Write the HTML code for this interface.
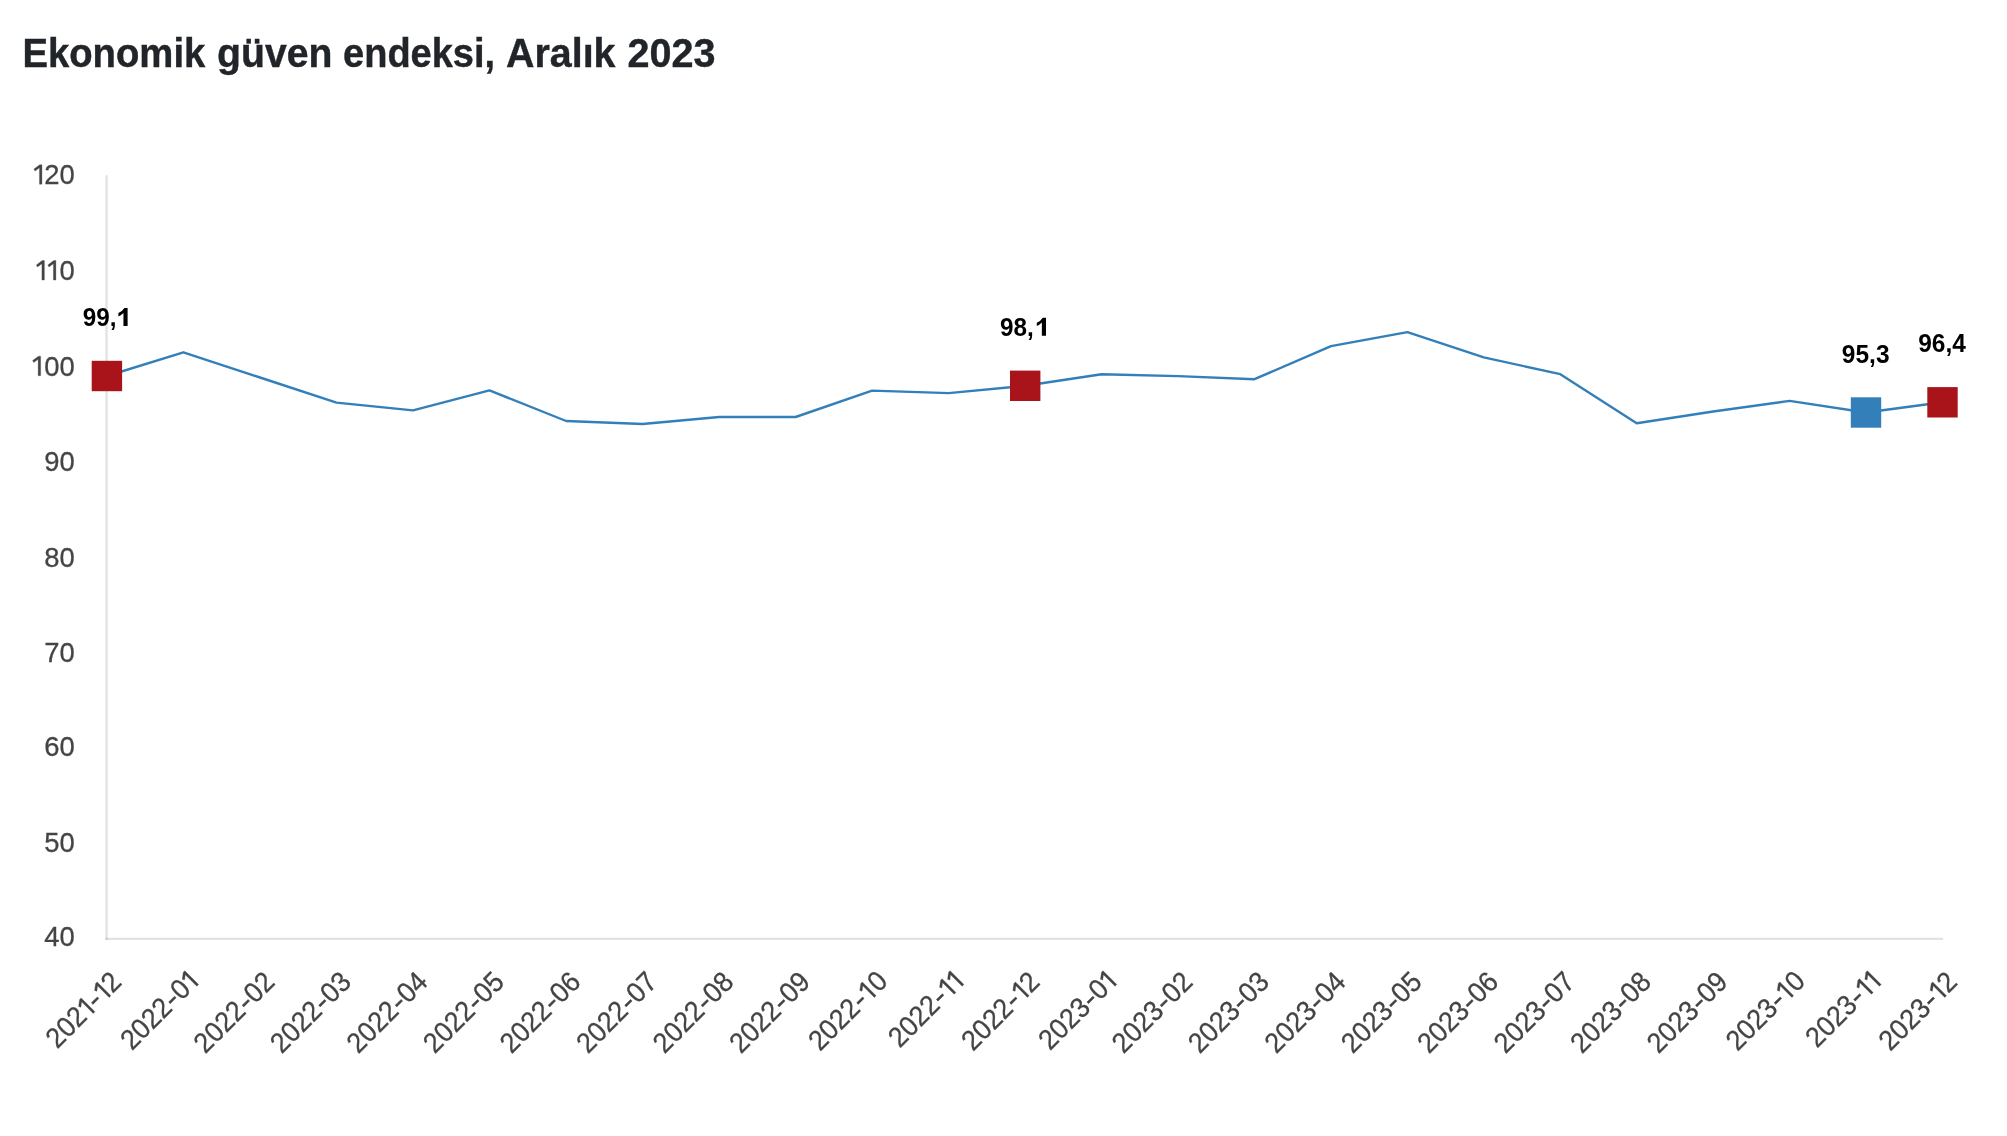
<!DOCTYPE html>
<html><head><meta charset="utf-8"><title>Ekonomik güven endeksi</title>
<style>
html,body{margin:0;padding:0;background:#fff;}
body{width:2007px;height:1136px;overflow:hidden;font-family:"Liberation Sans",sans-serif;}
svg{display:block}
.title{font-family:"Liberation Sans",sans-serif;font-weight:bold;font-size:41.2px;fill:#212529;stroke:#212529;stroke-width:0.4px;}
.lx{font-family:"Liberation Sans",sans-serif;font-size:28.4px;fill:#444;stroke:#444;stroke-width:0.3px;}
.ly{font-family:"Liberation Sans",sans-serif;font-size:28.4px;fill:#444;stroke:#444;stroke-width:0.3px;}
.dl{font-family:"Liberation Sans",sans-serif;font-weight:bold;font-size:24.9px;fill:#000;}
.t{filter:opacity(1)}
</style></head><body>
<svg width="2007" height="1136" viewBox="0 0 2007 1136">
<rect width="2007" height="1136" fill="#fff"/>
<g class="t">
<text transform="translate(22.44,67) scale(0.9292,1)" class="title">Ekonomik</text>
<text transform="translate(217.05,67) scale(0.9508,1)" class="title">güven</text>
<text transform="translate(343.08,67) scale(0.9222,1)" class="title">endeksi,</text>
<text transform="translate(506.04,67) scale(0.9561,1)" class="title">Aralık</text>
<text transform="translate(627.44,67) scale(0.9622,1)" class="title">2023</text>
</g>
<line x1="106.55" y1="175.2" x2="106.55" y2="940" stroke="#000" stroke-opacity="0.115" stroke-width="2.3"/>
<line x1="105.5" y1="938.9" x2="1943" y2="938.9" stroke="#000" stroke-opacity="0.115" stroke-width="2.2"/>
<g class="t">
<g transform="translate(74.8,184.2)"><path transform="translate(-42.00,0)" d="M9.14,0V-19.5H6.98L1.13,-15.2L2.26,-13.1L6.67,-16.4V0Z" class="ly"/><text transform="translate(-30.50,0) scale(0.965,1)" class="ly">20</text></g>
<g transform="translate(74.8,280.1)"><path transform="translate(-39.55,0)" d="M9.14,0V-19.5H6.98L1.13,-15.2L2.26,-13.1L6.67,-16.4V0Z" class="ly"/><path transform="translate(-28.05,0)" d="M9.14,0V-19.5H6.98L1.13,-15.2L2.26,-13.1L6.67,-16.4V0Z" class="ly"/><text transform="translate(-15.25,0) scale(0.965,1)" class="ly">0</text></g>
<g transform="translate(74.8,375.7)"><path transform="translate(-43.30,0)" d="M9.14,0V-19.5H6.98L1.13,-15.2L2.26,-13.1L6.67,-16.4V0Z" class="ly"/><text transform="translate(-30.50,0) scale(0.965,1)" class="ly">00</text></g>
<g transform="translate(74.8,471.4)"><text transform="translate(-30.50,0) scale(0.965,1)" class="ly">90</text></g>
<g transform="translate(74.8,566.7)"><text transform="translate(-30.50,0) scale(0.965,1)" class="ly">80</text></g>
<g transform="translate(74.8,661.6)"><text transform="translate(-30.50,0) scale(0.965,1)" class="ly">70</text></g>
<g transform="translate(74.8,756.4)"><text transform="translate(-30.50,0) scale(0.965,1)" class="ly">60</text></g>
<g transform="translate(74.8,851.7)"><text transform="translate(-30.50,0) scale(0.965,1)" class="ly">50</text></g>
<g transform="translate(74.8,946.3)"><text transform="translate(-30.50,0) scale(0.965,1)" class="ly">40</text></g>
<g transform="translate(123.0,983.6) rotate(-45) translate(0.0,0)"><text transform="translate(-93.10,0) scale(0.937,1)" class="lx">202</text><path transform="translate(-48.70,0)" d="M8.98,0V-19.5H6.86L1.11,-15.2L2.22,-13.1L6.56,-16.4V0Z" class="lx"/><text transform="translate(-37.40,0) scale(1.195,1)" class="lx">-</text><path transform="translate(-26.10,0)" d="M8.98,0V-19.5H6.86L1.11,-15.2L2.22,-13.1L6.56,-16.4V0Z" class="lx"/><text transform="translate(-14.80,0) scale(0.937,1)" class="lx">2</text></g>
<g transform="translate(199.5,983.6) rotate(-45) translate(1.0,0)"><text transform="translate(-96.60,0) scale(0.937,1)" class="lx">2022</text><text transform="translate(-37.40,0) scale(1.195,1)" class="lx">-</text><text transform="translate(-26.10,0) scale(0.937,1)" class="lx">0</text><path transform="translate(-11.30,0)" d="M8.98,0V-19.5H6.86L1.11,-15.2L2.22,-13.1L6.56,-16.4V0Z" class="lx"/></g>
<g transform="translate(276.1,983.6) rotate(-45) translate(0.0,0)"><text transform="translate(-100.10,0) scale(0.937,1)" class="lx">2022</text><text transform="translate(-40.90,0) scale(1.195,1)" class="lx">-</text><text transform="translate(-29.60,0) scale(0.937,1)" class="lx">02</text></g>
<g transform="translate(352.6,983.6) rotate(-45) translate(0.0,0)"><text transform="translate(-100.10,0) scale(0.937,1)" class="lx">2022</text><text transform="translate(-40.90,0) scale(1.195,1)" class="lx">-</text><text transform="translate(-29.60,0) scale(0.937,1)" class="lx">03</text></g>
<g transform="translate(429.1,983.6) rotate(-45) translate(0.0,0)"><text transform="translate(-100.10,0) scale(0.937,1)" class="lx">2022</text><text transform="translate(-40.90,0) scale(1.195,1)" class="lx">-</text><text transform="translate(-29.60,0) scale(0.937,1)" class="lx">04</text></g>
<g transform="translate(505.6,983.6) rotate(-45) translate(0.0,0)"><text transform="translate(-100.10,0) scale(0.937,1)" class="lx">2022</text><text transform="translate(-40.90,0) scale(1.195,1)" class="lx">-</text><text transform="translate(-29.60,0) scale(0.937,1)" class="lx">05</text></g>
<g transform="translate(582.2,983.6) rotate(-45) translate(0.0,0)"><text transform="translate(-100.10,0) scale(0.937,1)" class="lx">2022</text><text transform="translate(-40.90,0) scale(1.195,1)" class="lx">-</text><text transform="translate(-29.60,0) scale(0.937,1)" class="lx">06</text></g>
<g transform="translate(658.7,983.6) rotate(-45) translate(0.0,0)"><text transform="translate(-100.10,0) scale(0.937,1)" class="lx">2022</text><text transform="translate(-40.90,0) scale(1.195,1)" class="lx">-</text><text transform="translate(-29.60,0) scale(0.937,1)" class="lx">07</text></g>
<g transform="translate(735.2,983.6) rotate(-45) translate(0.0,0)"><text transform="translate(-100.10,0) scale(0.937,1)" class="lx">2022</text><text transform="translate(-40.90,0) scale(1.195,1)" class="lx">-</text><text transform="translate(-29.60,0) scale(0.937,1)" class="lx">08</text></g>
<g transform="translate(811.7,983.6) rotate(-45) translate(0.0,0)"><text transform="translate(-100.10,0) scale(0.937,1)" class="lx">2022</text><text transform="translate(-40.90,0) scale(1.195,1)" class="lx">-</text><text transform="translate(-29.60,0) scale(0.937,1)" class="lx">09</text></g>
<g transform="translate(888.2,983.6) rotate(-45) translate(1.3,0)"><text transform="translate(-97.90,0) scale(0.937,1)" class="lx">2022</text><text transform="translate(-38.70,0) scale(1.195,1)" class="lx">-</text><path transform="translate(-27.40,0)" d="M8.98,0V-19.5H6.86L1.11,-15.2L2.22,-13.1L6.56,-16.4V0Z" class="lx"/><text transform="translate(-14.80,0) scale(0.937,1)" class="lx">0</text></g>
<g transform="translate(964.8,983.6) rotate(-45) translate(1.0,0)"><text transform="translate(-93.10,0) scale(0.937,1)" class="lx">2022</text><text transform="translate(-33.90,0) scale(1.195,1)" class="lx">-</text><path transform="translate(-22.60,0)" d="M8.98,0V-19.5H6.86L1.11,-15.2L2.22,-13.1L6.56,-16.4V0Z" class="lx"/><path transform="translate(-11.30,0)" d="M8.98,0V-19.5H6.86L1.11,-15.2L2.22,-13.1L6.56,-16.4V0Z" class="lx"/></g>
<g transform="translate(1041.3,983.6) rotate(-45) translate(0.0,0)"><text transform="translate(-96.60,0) scale(0.937,1)" class="lx">2022</text><text transform="translate(-37.40,0) scale(1.195,1)" class="lx">-</text><path transform="translate(-26.10,0)" d="M8.98,0V-19.5H6.86L1.11,-15.2L2.22,-13.1L6.56,-16.4V0Z" class="lx"/><text transform="translate(-14.80,0) scale(0.937,1)" class="lx">2</text></g>
<g transform="translate(1117.7,983.6) rotate(-45) translate(1.0,0)"><text transform="translate(-96.60,0) scale(0.937,1)" class="lx">2023</text><text transform="translate(-37.40,0) scale(1.195,1)" class="lx">-</text><text transform="translate(-26.10,0) scale(0.937,1)" class="lx">0</text><path transform="translate(-11.30,0)" d="M8.98,0V-19.5H6.86L1.11,-15.2L2.22,-13.1L6.56,-16.4V0Z" class="lx"/></g>
<g transform="translate(1194.2,983.6) rotate(-45) translate(0.0,0)"><text transform="translate(-100.10,0) scale(0.937,1)" class="lx">2023</text><text transform="translate(-40.90,0) scale(1.195,1)" class="lx">-</text><text transform="translate(-29.60,0) scale(0.937,1)" class="lx">02</text></g>
<g transform="translate(1270.6,983.6) rotate(-45) translate(0.0,0)"><text transform="translate(-100.10,0) scale(0.937,1)" class="lx">2023</text><text transform="translate(-40.90,0) scale(1.195,1)" class="lx">-</text><text transform="translate(-29.60,0) scale(0.937,1)" class="lx">03</text></g>
<g transform="translate(1347.1,983.6) rotate(-45) translate(0.0,0)"><text transform="translate(-100.10,0) scale(0.937,1)" class="lx">2023</text><text transform="translate(-40.90,0) scale(1.195,1)" class="lx">-</text><text transform="translate(-29.60,0) scale(0.937,1)" class="lx">04</text></g>
<g transform="translate(1423.5,983.6) rotate(-45) translate(0.0,0)"><text transform="translate(-100.10,0) scale(0.937,1)" class="lx">2023</text><text transform="translate(-40.90,0) scale(1.195,1)" class="lx">-</text><text transform="translate(-29.60,0) scale(0.937,1)" class="lx">05</text></g>
<g transform="translate(1499.9,983.6) rotate(-45) translate(0.0,0)"><text transform="translate(-100.10,0) scale(0.937,1)" class="lx">2023</text><text transform="translate(-40.90,0) scale(1.195,1)" class="lx">-</text><text transform="translate(-29.60,0) scale(0.937,1)" class="lx">06</text></g>
<g transform="translate(1576.4,983.6) rotate(-45) translate(0.0,0)"><text transform="translate(-100.10,0) scale(0.937,1)" class="lx">2023</text><text transform="translate(-40.90,0) scale(1.195,1)" class="lx">-</text><text transform="translate(-29.60,0) scale(0.937,1)" class="lx">07</text></g>
<g transform="translate(1652.8,983.6) rotate(-45) translate(0.0,0)"><text transform="translate(-100.10,0) scale(0.937,1)" class="lx">2023</text><text transform="translate(-40.90,0) scale(1.195,1)" class="lx">-</text><text transform="translate(-29.60,0) scale(0.937,1)" class="lx">08</text></g>
<g transform="translate(1729.3,983.6) rotate(-45) translate(0.0,0)"><text transform="translate(-100.10,0) scale(0.937,1)" class="lx">2023</text><text transform="translate(-40.90,0) scale(1.195,1)" class="lx">-</text><text transform="translate(-29.60,0) scale(0.937,1)" class="lx">09</text></g>
<g transform="translate(1805.7,983.6) rotate(-45) translate(1.3,0)"><text transform="translate(-97.90,0) scale(0.937,1)" class="lx">2023</text><text transform="translate(-38.70,0) scale(1.195,1)" class="lx">-</text><path transform="translate(-27.40,0)" d="M8.98,0V-19.5H6.86L1.11,-15.2L2.22,-13.1L6.56,-16.4V0Z" class="lx"/><text transform="translate(-14.80,0) scale(0.937,1)" class="lx">0</text></g>
<g transform="translate(1882.1,983.6) rotate(-45) translate(1.0,0)"><text transform="translate(-93.10,0) scale(0.937,1)" class="lx">2023</text><text transform="translate(-33.90,0) scale(1.195,1)" class="lx">-</text><path transform="translate(-22.60,0)" d="M8.98,0V-19.5H6.86L1.11,-15.2L2.22,-13.1L6.56,-16.4V0Z" class="lx"/><path transform="translate(-11.30,0)" d="M8.98,0V-19.5H6.86L1.11,-15.2L2.22,-13.1L6.56,-16.4V0Z" class="lx"/></g>
<g transform="translate(1958.6,983.6) rotate(-45) translate(0.0,0)"><text transform="translate(-96.60,0) scale(0.937,1)" class="lx">2023</text><text transform="translate(-37.40,0) scale(1.195,1)" class="lx">-</text><path transform="translate(-26.10,0)" d="M8.98,0V-19.5H6.86L1.11,-15.2L2.22,-13.1L6.56,-16.4V0Z" class="lx"/><text transform="translate(-14.80,0) scale(0.937,1)" class="lx">2</text></g>
</g>
<polyline points="106.9,376.0 183.4,352.3 260.0,377.5 336.5,402.6 413.0,410.4 489.5,390.4 566.1,421.0 642.6,424.0 719.1,417.0 795.6,417.0 872.1,390.6 948.7,393.1 1025.2,385.8 1101.6,374.2 1178.1,376.1 1254.5,379.2 1331.0,346.1 1407.4,332.1 1483.8,357.3 1560.3,374.2 1636.7,423.3 1713.2,411.5 1789.6,400.9 1866.0,412.5 1942.5,402.3" fill="none" stroke="#337fb9" stroke-width="2.4" stroke-linejoin="round"/>
<rect x="91.7" y="360.8" width="30.4" height="30.4" fill="#a9141b"/>
<rect x="1010.0" y="370.6" width="30.4" height="30.4" fill="#a9141b"/>
<rect x="1850.8" y="397.3" width="30.4" height="30.4" fill="#337fb9"/>
<rect x="1927.3" y="387.1" width="30.4" height="30.4" fill="#a9141b"/>
<g class="t">
<text transform="translate(82.70,326.0) scale(0.975,1)" class="dl">99,</text><path transform="translate(127.60,326.0)" d="M0,0V-17.9H-3.2Q-5.2,-14.6 -9.2,-12.9V-9.6Q-6.3,-10.8 -4.15,-13.1V0Z"/>
<text transform="translate(1000.10,335.7) scale(0.975,1)" class="dl">98,</text><path transform="translate(1046.00,335.7)" d="M0,0V-17.9H-3.2Q-5.2,-14.6 -9.2,-12.9V-9.6Q-6.3,-10.8 -4.15,-13.1V0Z"/>
<text transform="translate(1865.7,362.9) scale(0.985,1)" text-anchor="middle" class="dl">95,3</text>
<text transform="translate(1942.0,351.6) scale(0.985,1)" text-anchor="middle" class="dl">96,4</text>
</g>
</svg>
</body></html>
